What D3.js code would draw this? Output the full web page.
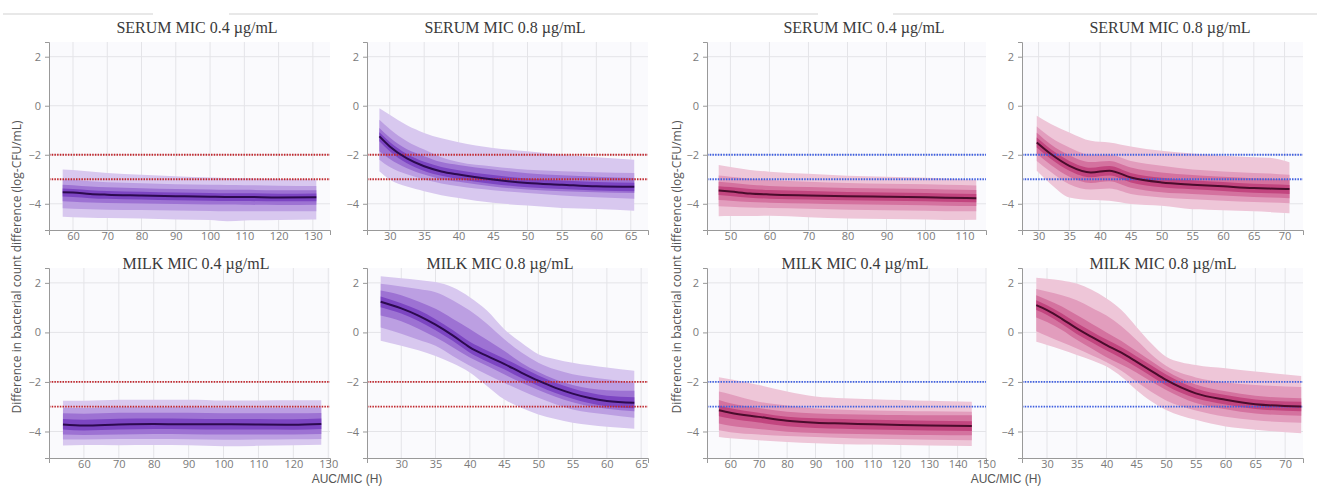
<!DOCTYPE html>
<html><head><meta charset="utf-8">
<script src="https://cdn.jsdelivr.net/npm/d3@7"></script>
<style>body{margin:0;background:#fff}svg{display:block}</style>
</head><body>
<svg id="chart" width="1317" height="486"></svg>
<script>
// ---------------- DATA ----------------
const titles = ["SERUM MIC 0.4 µg/mL","SERUM MIC 0.8 µg/mL","SERUM MIC 0.4 µg/mL","SERUM MIC 0.8 µg/mL",
                "MILK MIC 0.4 µg/mL","MILK MIC 0.8 µg/mL","MILK MIC 0.4 µg/mL","MILK MIC 0.8 µg/mL"];
const yTicks = [2, 0, -2, -4];
const yDomain = [-5.07, 2.6];
const thresholds = [-2, -3];
const xTitle = "AUC/MIC (H)";
const yTitle = "Difference in bacterial count difference (log-CFU/mL)";

const xTicks1 = [60,70,80,90,100,110,120,130];
const xTicks2 = [30,35,40,45,50,55,60,65];
const xTicks3 = [50,60,70,80,90,100,110];
const xTicks4 = [30,35,40,45,50,55,60,65,70];
const xTicks5 = [60,70,80,90,100,110,120,130];
const xTicks6 = [30,35,40,45,50,55,60,65];
const xTicks7 = [60,70,80,90,100,110,120,130,140,150];
const xTicks8 = [30,35,40,45,50,55,60,65,70];
const xDom1 = [53, 135], xDom2 = [26.7, 67.5], xDom3 = [44, 115.5], xDom4 = [27.3, 73];
const xDom5 = [50, 130.5], xDom6 = [25, 66], xDom7 = [51.8, 150], xDom8 = [25.8, 73];

// Panel 1: serum, MIC 0.4 (purple)
const p1_x   = [57, 60, 65, 70, 80, 90, 100, 105, 110, 120, 131];
const p1_med = [-3.53,-3.54,-3.6,-3.63,-3.66,-3.69,-3.71,-3.72,-3.72,-3.74,-3.73];
const p1_hi1 = [-2.6,-2.62,-2.68,-2.74,-2.82,-2.88,-2.93,-2.95,-2.96,-2.99,-3.01];
const p1_lo1 = [-4.53,-4.55,-4.57,-4.58,-4.6,-4.64,-4.66,-4.71,-4.68,-4.66,-4.64];
const p1_hi2 = [-3.0,-3.02,-3.08,-3.12,-3.16,-3.2,-3.22,-3.23,-3.24,-3.26,-3.27];
const p1_lo2 = [-4.18,-4.2,-4.22,-4.24,-4.25,-4.27,-4.29,-4.3,-4.3,-4.31,-4.3];
const p1_hi3 = [-3.22,-3.24,-3.3,-3.33,-3.37,-3.4,-3.42,-3.43,-3.43,-3.45,-3.45];
const p1_lo3 = [-3.9,-3.92,-3.95,-3.97,-3.99,-4.01,-4.03,-4.03,-4.04,-4.05,-4.04];
const p1_hi4 = [-3.38,-3.4,-3.45,-3.48,-3.51,-3.54,-3.56,-3.57,-3.57,-3.59,-3.58];
const p1_lo4 = [-3.7,-3.72,-3.77,-3.8,-3.83,-3.86,-3.88,-3.89,-3.89,-3.9,-3.9];

// Panel 2: serum, MIC 0.8 (purple)
const p2_x   = [28.5, 30, 32.5, 35, 37.5, 40, 45, 50, 55, 60, 65.5];
const p2_med = [-1.25,-1.66,-2.15,-2.47,-2.68,-2.81,-3.01,-3.15,-3.22,-3.29,-3.31];
const p2_hi1 = [-0.1,-0.37,-0.8,-1.11,-1.33,-1.49,-1.72,-1.86,-2.0,-2.1,-2.2];
const p2_lo1 = [-2.67,-3.01,-3.3,-3.49,-3.65,-3.76,-3.96,-4.07,-4.17,-4.21,-4.28];
const p2_hi2 = [-0.57,-0.95,-1.45,-1.79,-2.1,-2.3,-2.48,-2.61,-2.67,-2.71,-2.74];
const p2_lo2 = [-2.2,-2.5,-2.8,-3.01,-3.17,-3.29,-3.45,-3.56,-3.66,-3.73,-3.79];
const p2_hi3 = [-0.91,-1.3,-1.78,-2.06,-2.3,-2.42,-2.6,-2.75,-2.84,-2.9,-2.95];
const p2_lo3 = [-1.86,-2.17,-2.55,-2.81,-3.0,-3.1,-3.3,-3.42,-3.49,-3.53,-3.56];
const p2_hi4 = [-1.08,-1.48,-1.97,-2.29,-2.5,-2.63,-2.83,-2.97,-3.05,-3.11,-3.14];
const p2_lo4 = [-1.45,-1.86,-2.35,-2.66,-2.86,-2.99,-3.19,-3.33,-3.4,-3.46,-3.49];

// Panel 3: serum, MIC 0.4 (pink)
const p3_x   = [47, 50, 55, 60, 70, 80, 90, 100, 105, 113];
const p3_med = [-3.46,-3.5,-3.58,-3.62,-3.66,-3.69,-3.71,-3.73,-3.75,-3.77];
const p3_hi1 = [-2.42,-2.5,-2.62,-2.69,-2.78,-2.86,-2.9,-2.94,-2.97,-3.03];
const p3_lo1 = [-4.51,-4.5,-4.5,-4.49,-4.55,-4.6,-4.62,-4.64,-4.66,-4.65];
const p3_hi2 = [-2.85,-2.9,-2.98,-3.03,-3.1,-3.15,-3.18,-3.2,-3.22,-3.25];
const p3_lo2 = [-4.1,-4.12,-4.15,-4.17,-4.2,-4.24,-4.26,-4.28,-4.3,-4.3];
const p3_hi3 = [-3.1,-3.14,-3.22,-3.27,-3.32,-3.36,-3.38,-3.4,-3.42,-3.44];
const p3_lo3 = [-3.85,-3.88,-3.93,-3.96,-3.99,-4.02,-4.04,-4.06,-4.08,-4.09];
const p3_hi4 = [-3.28,-3.32,-3.4,-3.44,-3.48,-3.52,-3.54,-3.56,-3.58,-3.6];
const p3_lo4 = [-3.64,-3.68,-3.75,-3.79,-3.83,-3.86,-3.88,-3.9,-3.92,-3.94];

// Panel 4: serum, MIC 0.8 (pink)
const p4_x   = [29.7, 32, 35, 38.5, 41.5, 45, 50, 55, 60, 65, 67.5, 70.8];
const p4_med = [-1.5,-1.97,-2.45,-2.72,-2.65,-2.93,-3.13,-3.22,-3.29,-3.36,-3.38,-3.4];
const p4_hi1 = [-0.41,-0.75,-1.09,-1.43,-1.5,-1.66,-1.84,-1.95,-2.04,-2.1,-2.12,-2.31];
const p4_lo1 = [-2.65,-3.2,-3.74,-3.85,-3.88,-4.01,-4.08,-4.22,-4.26,-4.31,-4.34,-4.39];
const p4_hi2 = [-0.85,-1.3,-1.7,-2.0,-2.0,-2.25,-2.45,-2.6,-2.68,-2.74,-2.76,-2.82];
const p4_lo2 = [-2.25,-2.7,-3.2,-3.42,-3.38,-3.6,-3.74,-3.82,-3.88,-3.93,-3.95,-3.98];
const p4_hi3 = [-1.1,-1.58,-2.02,-2.3,-2.25,-2.52,-2.72,-2.83,-2.9,-2.96,-2.98,-3.02];
const p4_lo3 = [-1.95,-2.42,-2.9,-3.15,-3.08,-3.35,-3.53,-3.6,-3.66,-3.72,-3.74,-3.77];
const p4_hi4 = [-1.3,-1.78,-2.25,-2.53,-2.46,-2.74,-2.94,-3.04,-3.11,-3.18,-3.2,-3.23];
const p4_lo4 = [-1.7,-2.17,-2.65,-2.92,-2.85,-3.13,-3.33,-3.41,-3.48,-3.55,-3.57,-3.6];

// Panel 5: milk, MIC 0.4 (purple)
const p5_x   = [54, 60, 70, 80, 90, 100, 110, 120, 128];
const p5_med = [-3.72,-3.76,-3.72,-3.7,-3.71,-3.71,-3.72,-3.73,-3.7];
const p5_hi1 = [-2.76,-2.76,-2.72,-2.72,-2.72,-2.75,-2.75,-2.74,-2.74];
const p5_lo1 = [-4.57,-4.55,-4.56,-4.55,-4.56,-4.6,-4.58,-4.56,-4.54];
const p5_hi2 = [-3.04,-3.05,-3.02,-3.02,-3.02,-3.04,-3.04,-3.04,-3.03];
const p5_lo2 = [-4.32,-4.32,-4.3,-4.3,-4.31,-4.33,-4.32,-4.31,-4.3];
const p5_hi3 = [-3.26,-3.28,-3.24,-3.24,-3.24,-3.26,-3.26,-3.26,-3.25];
const p5_lo3 = [-4.12,-4.14,-4.12,-4.1,-4.11,-4.12,-4.12,-4.12,-4.1];
const p5_hi4 = [-3.5,-3.53,-3.49,-3.48,-3.49,-3.5,-3.5,-3.51,-3.48];
const p5_lo4 = [-3.92,-3.96,-3.92,-3.9,-3.91,-3.92,-3.92,-3.93,-3.9];

// Panel 6: milk, MIC 0.8 (purple)
const p6_x   = [27, 30, 32.5, 35, 37.5, 40, 42.5, 45, 47.5, 50, 52.5, 55, 57.5, 60, 64];
const p6_med = [1.24,0.97,0.68,0.31,-0.12,-0.6,-0.95,-1.27,-1.62,-1.95,-2.24,-2.47,-2.65,-2.77,-2.84];
const p6_hi1 = [2.27,2.19,2.12,2.03,1.82,1.42,0.88,0.14,-0.41,-0.88,-1.08,-1.22,-1.33,-1.42,-1.55];
const p6_lo1 = [-0.34,-0.54,-0.72,-0.95,-1.25,-1.62,-2.16,-2.7,-3.04,-3.31,-3.5,-3.65,-3.74,-3.81,-3.89];
const p6_hi2 = [1.96,1.85,1.75,1.62,1.3,0.88,0.35,-0.27,-0.8,-1.22,-1.5,-1.69,-1.8,-1.89,-2.03];
const p6_lo2 = [0.2,-0.05,-0.3,-0.54,-0.95,-1.35,-1.7,-2.03,-2.35,-2.64,-2.9,-3.11,-3.23,-3.31,-3.45];
const p6_hi3 = [1.69,1.5,1.25,0.95,0.55,0.14,-0.3,-0.74,-1.22,-1.6,-1.9,-2.12,-2.26,-2.33,-2.36];
const p6_lo3 = [0.68,0.45,0.15,-0.2,-0.6,-1.01,-1.35,-1.69,-2.02,-2.32,-2.6,-2.82,-2.98,-3.08,-3.18];
const p6_hi4 = [1.45,1.18,0.9,0.53,0.1,-0.38,-0.73,-1.05,-1.4,-1.74,-2.03,-2.26,-2.44,-2.56,-2.62];
const p6_lo4 = [1.02,0.76,0.46,0.09,-0.34,-0.82,-1.17,-1.49,-1.84,-2.16,-2.45,-2.68,-2.86,-2.98,-3.06];

// Panel 7: milk, MIC 0.4 (pink)
const p7_x   = [56, 60, 70, 80, 90, 100, 110, 120, 130, 145];
const p7_med = [-3.14,-3.24,-3.41,-3.57,-3.65,-3.68,-3.71,-3.74,-3.76,-3.78];
const p7_hi1 = [-1.81,-1.89,-2.12,-2.39,-2.59,-2.66,-2.7,-2.73,-2.76,-2.8];
const p7_lo1 = [-4.22,-4.27,-4.35,-4.42,-4.47,-4.51,-4.53,-4.55,-4.57,-4.59];
const p7_hi2 = [-2.39,-2.5,-2.8,-2.95,-3.07,-3.12,-3.15,-3.17,-3.18,-3.2];
const p7_lo2 = [-3.95,-4.03,-4.12,-4.18,-4.22,-4.26,-4.29,-4.31,-4.33,-4.35];
const p7_hi3 = [-2.73,-2.86,-3.05,-3.2,-3.27,-3.3,-3.32,-3.33,-3.34,-3.34];
const p7_lo3 = [-3.68,-3.77,-3.9,-4.01,-4.06,-4.09,-4.11,-4.13,-4.14,-4.15];
const p7_hi4 = [-2.95,-3.06,-3.24,-3.4,-3.47,-3.5,-3.53,-3.55,-3.57,-3.59];
const p7_lo4 = [-3.38,-3.48,-3.64,-3.79,-3.86,-3.89,-3.92,-3.94,-3.96,-3.98];

// Panel 8: milk, MIC 0.8 (pink)
const p8_x   = [28.2, 30, 32.5, 35, 37.5, 40, 42.5, 45, 47.5, 50, 55, 60, 65, 72.7];
const p8_med = [1.1,0.9,0.55,0.16,-0.18,-0.51,-0.82,-1.18,-1.55,-1.92,-2.46,-2.72,-2.9,-2.99];
const p8_hi1 = [2.21,2.17,2.1,1.97,1.72,1.37,0.9,0.23,-0.44,-0.98,-1.32,-1.45,-1.58,-1.76];
const p8_lo1 = [-0.38,-0.51,-0.7,-0.91,-1.12,-1.38,-1.79,-2.32,-2.78,-3.13,-3.53,-3.8,-3.93,-4.07];
const p8_hi2 = [1.75,1.65,1.5,1.3,1.0,0.68,0.25,-0.3,-0.88,-1.35,-1.82,-2.02,-2.12,-2.2];
const p8_lo2 = [0.05,-0.15,-0.4,-0.65,-0.92,-1.2,-1.55,-1.98,-2.4,-2.75,-3.15,-3.4,-3.55,-3.65];
const p8_hi3 = [1.5,1.32,1.05,0.7,0.35,0.0,-0.35,-0.75,-1.15,-1.55,-2.1,-2.38,-2.56,-2.66];
const p8_lo3 = [0.6,0.42,0.1,-0.3,-0.65,-1.0,-1.3,-1.62,-1.98,-2.32,-2.85,-3.1,-3.27,-3.36];
const p8_hi4 = [1.3,1.1,0.76,0.38,0.04,-0.29,-0.6,-0.96,-1.33,-1.7,-2.26,-2.53,-2.71,-2.8];
const p8_lo4 = [0.9,0.7,0.34,-0.06,-0.4,-0.73,-1.04,-1.4,-1.77,-2.14,-2.66,-2.91,-3.09,-3.18];

// ---------------- STYLE / LAYOUT ----------------
const purple = {bands:["#d8c8ef","#bc9fe2","#9d72d3","#7c45c2"], line:"#2c0a4f", thr:"#c0272d"};
const pink   = {bands:["#eec6d8","#e29dbd","#d4729f","#c2457f"], line:"#4a0c2c", thr:"#3f5fe0"};
const colX = [[49,330],[367,648],[707,986],[1022,1303]];
const rowY = [[42,230],[268,458]];
const titleX = [197,505,864,1170,196,500,855,1163];
const titleY = [33,269];

const panels = [
  {x:p1_x,med:p1_med,b:[[p1_lo1,p1_hi1],[p1_lo2,p1_hi2],[p1_lo3,p1_hi3],[p1_lo4,p1_hi4]],dom:xDom1,ticks:xTicks1,c:purple},
  {x:p2_x,med:p2_med,b:[[p2_lo1,p2_hi1],[p2_lo2,p2_hi2],[p2_lo3,p2_hi3],[p2_lo4,p2_hi4]],dom:xDom2,ticks:xTicks2,c:purple},
  {x:p3_x,med:p3_med,b:[[p3_lo1,p3_hi1],[p3_lo2,p3_hi2],[p3_lo3,p3_hi3],[p3_lo4,p3_hi4]],dom:xDom3,ticks:xTicks3,c:pink},
  {x:p4_x,med:p4_med,b:[[p4_lo1,p4_hi1],[p4_lo2,p4_hi2],[p4_lo3,p4_hi3],[p4_lo4,p4_hi4]],dom:xDom4,ticks:xTicks4,c:pink},
  {x:p5_x,med:p5_med,b:[[p5_lo1,p5_hi1],[p5_lo2,p5_hi2],[p5_lo3,p5_hi3],[p5_lo4,p5_hi4]],dom:xDom5,ticks:xTicks5,c:purple},
  {x:p6_x,med:p6_med,b:[[p6_lo1,p6_hi1],[p6_lo2,p6_hi2],[p6_lo3,p6_hi3],[p6_lo4,p6_hi4]],dom:xDom6,ticks:xTicks6,c:purple},
  {x:p7_x,med:p7_med,b:[[p7_lo1,p7_hi1],[p7_lo2,p7_hi2],[p7_lo3,p7_hi3],[p7_lo4,p7_hi4]],dom:xDom7,ticks:xTicks7,c:pink},
  {x:p8_x,med:p8_med,b:[[p8_lo1,p8_hi1],[p8_lo2,p8_hi2],[p8_lo3,p8_hi3],[p8_lo4,p8_hi4]],dom:xDom8,ticks:xTicks8,c:pink}
];

const svg = d3.select("#chart");
const sans = "'Open Sans', 'Noto Sans', sans-serif";

// faint separator lines at top (screenshot artefacts)
[[3,153],[229,662],[662,818],[893,1317]].forEach(s=>{
  svg.append("line").attr("x1",s[0]).attr("x2",s[1]).attr("y1",14).attr("y2",14)
    .attr("stroke","#e8e8e8").attr("stroke-width",2);
});

panels.forEach((p,i)=>{
  const col = i % 4, row = Math.floor(i/4);
  const [x0,x1] = colX[col], [y0,y1] = rowY[row];
  const x = d3.scaleLinear().domain(p.dom).range([x0,x1]);
  const y = d3.scaleLinear().domain(yDomain).range([y1,y0]);
  const g = svg.append("g");

  g.append("rect").attr("x",x0).attr("y",y0).attr("width",x1-x0).attr("height",y1-y0).attr("fill","#fafafd");
  g.selectAll(".vg").data(p.ticks).join("line").attr("x1",d=>x(d)).attr("x2",d=>x(d))
    .attr("y1",y0).attr("y2",y1).attr("stroke","#e4e4e8").attr("stroke-width",1);
  g.selectAll(".hg").data(yTicks).join("line").attr("y1",d=>y(d)).attr("y2",d=>y(d))
    .attr("x1",x0).attr("x2",x1).attr("stroke","#e4e4e8").attr("stroke-width",1);

  const rows = p.x.map((xv,k)=>({x:xv,k}));
  p.b.forEach((band,bi)=>{
    const area = d3.area().x(d=>x(d.x)).y0(d=>y(band[0][d.k])).y1(d=>y(band[1][d.k])).curve(d3.curveMonotoneX);
    g.append("path").datum(rows).attr("d",area).attr("fill",p.c.bands[bi]);
  });

  thresholds.forEach(t=>{
    g.append("line").attr("x1",x0).attr("x2",x1).attr("y1",y(t)).attr("y2",y(t))
      .attr("stroke",p.c.thr).attr("stroke-width",1.8).attr("stroke-dasharray","1.5,1.2");
  });

  const line = d3.line().x(d=>x(d.x)).y(d=>y(p.med[d.k])).curve(d3.curveMonotoneX);
  g.append("path").datum(rows).attr("d",line).attr("fill","none").attr("stroke",p.c.line).attr("stroke-width",2);

  const xa = g.append("g").attr("transform",`translate(0,${y1})`)
    .call(d3.axisBottom(x).tickValues(p.ticks).tickSizeInner(0).tickSizeOuter(5).tickPadding(2));
  const ya = g.append("g").attr("transform",`translate(${x0},0)`)
    .call(d3.axisLeft(y).tickValues(yTicks).tickSizeInner(4).tickSizeOuter(4).tickPadding(4));
  [xa,ya].forEach(a=>{
    a.select(".domain").attr("stroke","#999");
    a.selectAll(".tick line").attr("stroke","#999");
    a.selectAll("text").attr("fill","#7a7a7a").style("font-family",sans).style("font-size","11px");
  });

  svg.append("text").attr("x",titleX[i]).attr("y",titleY[row]).attr("text-anchor","middle")
    .style("font-family","'Liberation Serif','Times New Roman',serif").style("font-size","16px")
    .attr("fill","#3a3a3a").text(titles[i]);
});

// axis titles
[[347,483],[1006,483]].forEach(([cx,cy])=>{
  svg.append("text").attr("x",cx).attr("y",cy).attr("text-anchor","middle")
    .style("font-family","'Liberation Sans', Arial, sans-serif").style("font-size","12px").attr("fill","#555").text(xTitle);
});
[[21,267],[681,267]].forEach(([cx,cy])=>{
  svg.append("text").attr("transform",`translate(${cx},${cy}) rotate(-90)`).attr("text-anchor","middle")
    .style("font-family",sans).style("font-size","12px").attr("fill","#555").text(yTitle);
});
</script>
</body></html>
